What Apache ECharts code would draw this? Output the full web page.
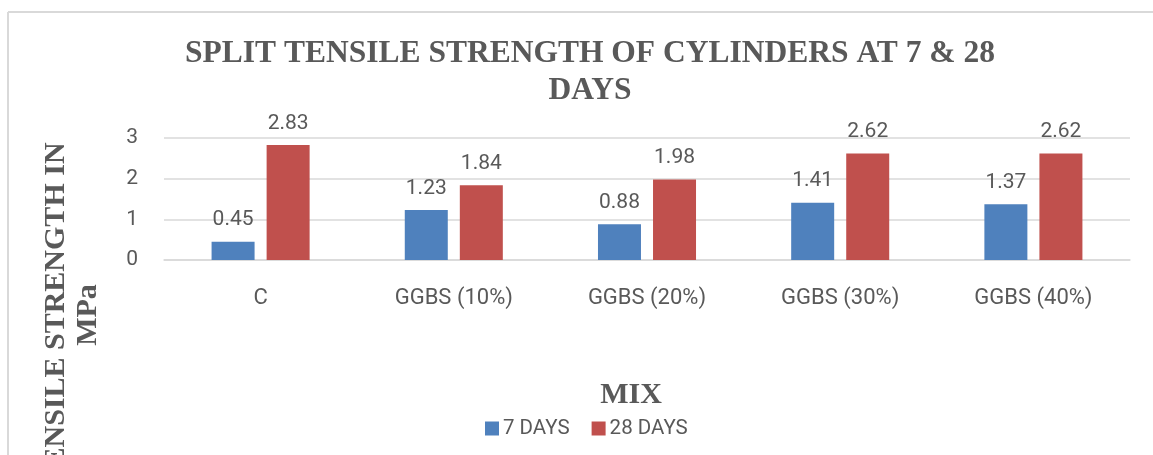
<!DOCTYPE html>
<html>
<head>
<meta charset="utf-8">
<script src="https://cdn.jsdelivr.net/npm/echarts@6/dist/echarts.min.js"></script>
<style>
  html, body { margin: 0; padding: 0; background: #fff; }
  #echart { width: 1153px; height: 455px; }
</style>
</head>
<body>
<div id="echart"></div>
<script>
// data
var categories = ['C', 'GGBS (10%)', 'GGBS (20%)', 'GGBS (30%)', 'GGBS (40%)'];
var days7 = [0.45, 1.23, 0.88, 1.41, 1.37];
var days28 = [2.83, 1.84, 1.98, 2.62, 2.62];
var yTicks = [0, 1, 2, 3];

var textColor = '#595959';
var serif = '"Liberation Serif", "Times New Roman", serif';
var sans = 'Roboto, "Noto Sans", sans-serif';

var echart = echarts.init(document.getElementById('echart'));

var option = {
  animation: false,
  title: {
    text: 'SPLIT TENSILE STRENGTH OF CYLINDERS AT 7 & 28\nDAYS',
    left: 585,
    top: 30,
    textAlign: 'center',
    textStyle: {
      fontFamily: serif,
      fontWeight: 'bold',
      fontSize: 31.5,
      lineHeight: 37,
      color: textColor
    }
  },
  grid: {
    top: 138,
    left: 164,
    right: 23,
    height: 122,
    containLabel: false
  },
  legend: {
    data: ['7 DAYS', '28 DAYS'],
    left: 480,
    top: 413,
    itemWidth: 14,
    itemHeight: 14,
    itemGap: 22,
    icon: 'rect',
    textStyle: {
      fontFamily: sans,
      fontSize: 20.5,
      color: textColor,
      padding: [0, 0, 0, -1]
    }
  },
  xAxis: {
    type: 'category',
    data: categories,
    axisTick: { show: false },
    axisLine: { lineStyle: { color: '#d9d9d9', width: 1.5 } },
    axisLabel: {
      fontFamily: sans,
      fontSize: 22,
      color: textColor,
      margin: 27
    },
    name: 'MIX',
    nameLocation: 'middle',
    nameGap: 120,
    nameTextStyle: {
      fontFamily: serif,
      fontWeight: 'bold',
      fontSize: 30,
      color: textColor,
      padding: [0, 32, 0, 0]
    }
  },
  yAxis: {
    type: 'value',
    min: yTicks[0],
    max: yTicks[yTicks.length - 1],
    interval: 1,
    axisLine: { show: false },
    axisTick: { show: false },
    axisLabel: {
      fontFamily: sans,
      fontSize: 21,
      color: textColor,
      margin: 26
    },
    splitLine: { lineStyle: { color: '#d9d9d9', width: 1.5 } }
  },
  graphic: [
    {
      type: 'line',
      shape: { x1: 8, y1: 12, x2: 1153, y2: 12 },
      style: { stroke: '#d9d9d9', lineWidth: 2 }
    },
    {
      type: 'line',
      shape: { x1: 8, y1: 12, x2: 8, y2: 455 },
      style: { stroke: '#d9d9d9', lineWidth: 2 }
    },
    {
      type: 'text',
      x: 72,
      y: 315,
      rotation: Math.PI / 2,
      style: {
        text: 'TENSILE STRENGTH IN\nMPa',
        fontFamily: serif,
        fontWeight: 'bold',
        fontSize: 30,
        lineHeight: 32,
        fill: textColor,
        align: 'center',
        verticalAlign: 'middle'
      }
    }
  ],
  series: [
    {
      name: '7 DAYS',
      type: 'bar',
      data: days7,
      barWidth: 43,
      barGap: '28%',
      itemStyle: { color: '#4f81bd' },
      label: {
        show: true,
        position: 'top',
        distance: 11,
        fontFamily: sans,
        fontSize: 21,
        color: textColor
      }
    },
    {
      name: '28 DAYS',
      type: 'bar',
      data: days28,
      barWidth: 43,
      barGap: '28%',
      itemStyle: { color: '#c0504d' },
      label: {
        show: true,
        position: 'top',
        distance: 11,
        fontFamily: sans,
        fontSize: 21,
        color: textColor
      }
    }
  ]
};

echart.setOption(option);
</script>
</body>
</html>
